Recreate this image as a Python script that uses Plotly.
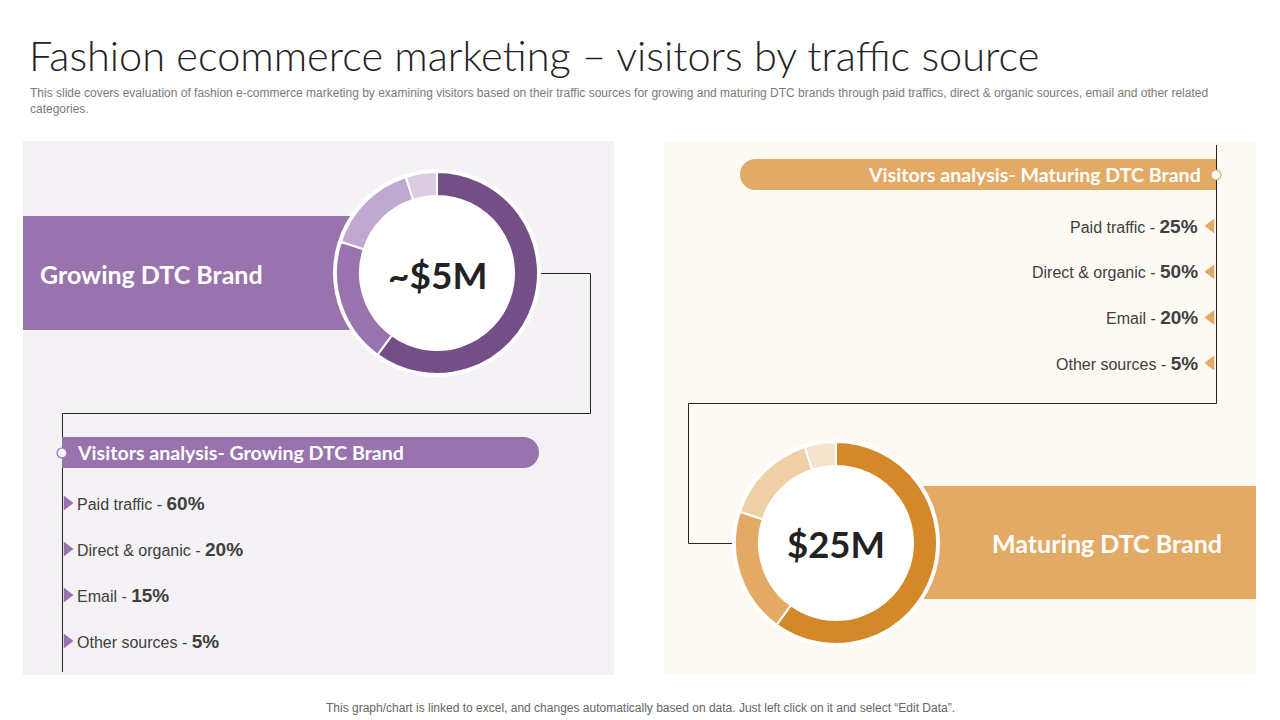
import plotly.graph_objects as go

# ---------------- data ----------------
sources = ["Paid traffic", "Direct & organic", "Email", "Other sources"]
growing_pct = [60, 20, 15, 5]
maturing_pct = [25, 50, 20, 5]
# slice sizes as drawn in the two donuts
growing_donut = [60, 20, 15, 5]
maturing_donut = [60, 20, 15, 5]
growing_total = "~$5M"
maturing_total = "$25M"

title = "Fashion ecommerce marketing – visitors by traffic source"
subtitle = ("This slide covers evaluation of fashion e-commerce marketing by examining visitors based on their traffic sources "
            "for growing and maturing DTC brands through paid traffics, direct & organic sources, email and other related<br>categories.")
footer = "This graph/chart is linked to excel, and changes automatically based on data. Just left click on it and select “Edit Data”."

# ---------------- style ----------------
W, H = 1280, 720
PURPLE = ["#744F87", "#9873AE", "#BFA9D0", "#D9CCE4"]
ORANGE = ["#D3892A", "#E2AA65", "#EFCFA6", "#F5E3CB"]
HEAD = "Lato"
BODY = "Liberation Sans"
LINE = "#262626"

fig = go.Figure()
shapes = []
ann = []

def rect(x0, y0, x1, y1, color, layer="below"):
    shapes.append(dict(type="rect", x0=x0, y0=y0, x1=x1, y1=y1, fillcolor=color,
                       line=dict(width=0), layer=layer, xref="x", yref="y"))

def circle(cx, cy, r, fill, line_color=None, lw=0, layer="below"):
    shapes.append(dict(type="circle", x0=cx - r, y0=cy - r, x1=cx + r, y1=cy + r, fillcolor=fill,
                       line=dict(width=lw, color=line_color or fill), layer=layer, xref="x", yref="y"))

def polyline(pts, color=LINE, w=1, layer="below"):
    d = "M " + " L ".join(f"{x},{y}" for x, y in pts)
    shapes.append(dict(type="path", path=d, line=dict(color=color, width=w), layer=layer,
                       xref="x", yref="y"))

# panels
rect(23, 141, 614, 675, "#F4F2F5")
rect(664, 141, 1256, 675, "#FDFAF4")

# brand bands
rect(23, 216, 350, 330, PURPLE[1])
rect(900, 486, 1256, 599, ORANGE[1])

# connectors
polyline([(540, 273.5), (590.5, 273.5), (590.5, 413.5), (62.5, 413.5), (62.5, 672)])
polyline([(1216.5, 145), (1216.5, 403.5), (688.5, 403.5), (688.5, 543.5), (735, 543.5)])

# pills
rect(62, 437, 523.5, 468, PURPLE[1])
circle(523.5, 452.5, 15.5, PURPLE[1])
rect(755.5, 159, 1216, 190, ORANGE[1])
circle(755.5, 174.5, 15.5, ORANGE[1])
circle(62, 453, 5, "#F4F2F5", PURPLE[1], 1.2, layer="above")
circle(1216, 175, 5, "#FDFAF4", ORANGE[1], 1.2, layer="above")

# donut halos
R_OUT, R_IN = 101, 77
for cx, cy in [(437, 273), (836, 543)]:
    circle(cx, cy, R_OUT + 3, "#FFFFFF")

def donut(vals, colors, cx, cy, name):
    fig.add_trace(go.Pie(
        values=vals, labels=sources, name=name, sort=False, direction="clockwise", rotation=0,
        hole=R_IN / R_OUT, textinfo="none", hoverinfo="label+value",
        marker=dict(colors=colors, line=dict(color="#FFFFFF", width=2)),
        domain=dict(x=[(cx - R_OUT) / W, (cx + R_OUT) / W],
                    y=[1 - (cy + R_OUT) / H, 1 - (cy - R_OUT) / H]),
        showlegend=False))

donut(growing_donut, PURPLE, 437, 273, "Growing DTC Brand")
donut(maturing_donut, ORANGE, 836, 543, "Maturing DTC Brand")

# bullet markers
ys_left = [503 + 46 * i for i in range(len(sources))]
ys_right = [226 + 45.7 * i for i in range(len(sources))]
fig.add_trace(go.Scatter(x=[67] * len(sources), y=ys_left, mode="markers",
                         marker=dict(symbol="triangle-right", size=13, color=PURPLE[1]),
                         hoverinfo="skip", showlegend=False))
fig.add_trace(go.Scatter(x=[1211] * len(sources), y=ys_right, mode="markers",
                         marker=dict(symbol="triangle-left", size=13, color=ORANGE[1]),
                         hoverinfo="skip", showlegend=False))

def text(x, y, s, size, color, family, xanchor="left", bold=False, weight=None):
    f = dict(size=size, color=color, family=family)
    if weight:
        f["weight"] = weight
    ann.append(dict(x=x, y=y, xref="x", yref="y", text=f"<b>{s}</b>" if bold else s,
                    showarrow=False, xanchor=xanchor, yanchor="middle", font=f, align=xanchor if xanchor != "center" else "center"))

# titles
text(27, 55, title, 41.5, "#222222", HEAD, weight=300)
ann.append(dict(x=28, y=101, xref="x", yref="y", text=subtitle, showarrow=False, xanchor="left",
                yanchor="middle", align="left", font=dict(size=12, color="#7A7A7A", family=BODY)))
text(640, 708, footer, 12, "#666666", BODY, xanchor="center")

# brand labels
text(38, 274, "Growing DTC Brand", 25, "#FFFFFF", HEAD, bold=True)
text(1107, 543, "Maturing DTC Brand", 25, "#FFFFFF", HEAD, xanchor="center", bold=True)
text(437, 274, growing_total, 37, "#222222", HEAD, xanchor="center", bold=True)
text(836, 544, maturing_total, 36.5, "#222222", HEAD, xanchor="center", bold=True)

# pill labels
text(75, 452, "Visitors analysis- Growing DTC Brand", 19.6, "#FFFFFF", HEAD, bold=True)
text(1203, 174, "Visitors analysis- Maturing DTC Brand", 19.6, "#FFFFFF", HEAD, xanchor="right", bold=True)

# list items
for s, p, y in zip(sources, growing_pct, ys_left):
    text(75, y, f"{s} - <span style='font-size:19px'><b>{p}%</b></span>", 16, "#404040", BODY)
for s, p, y in zip(sources, maturing_pct, ys_right):
    text(1200, y, f"{s} - <span style='font-size:19px'><b>{p}%</b></span>", 16, "#404040", BODY, xanchor="right")

fig.update_layout(
    width=W, height=H, margin=dict(l=0, r=0, t=0, b=0), paper_bgcolor="#FFFFFF", plot_bgcolor="#FFFFFF",
    xaxis=dict(range=[0, W], visible=False, fixedrange=True),
    yaxis=dict(range=[H, 0], visible=False, fixedrange=True),
    shapes=shapes, annotations=ann,
)
fig.write_html("out.html")
